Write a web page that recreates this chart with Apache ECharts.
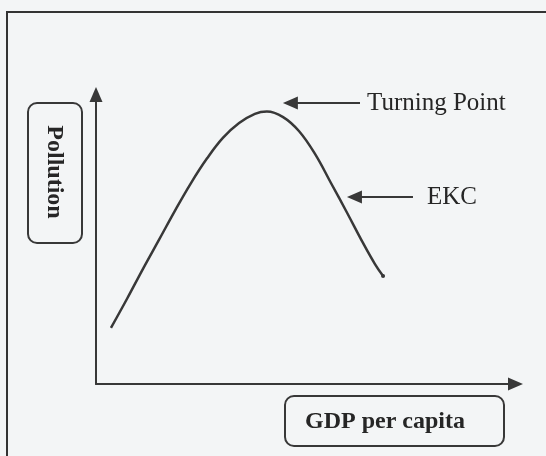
<!DOCTYPE html>
<html>
<head>
<meta charset="utf-8">
<script src="https://cdn.jsdelivr.net/npm/echarts@6/dist/echarts.min.js"></script>
<style>
html,body{margin:0;padding:0;background:#f3f5f6;}
#main{width:546px;height:456px;}
</style>
</head>
<body>
<div id="main"></div>
<script>
// EKC curve: GDP per capita (x) against pollution (y), arbitrary units
var gdpValues       = [3.5, 7.3, 11.0, 14.8, 18.5, 22.2, 26.0, 29.7, 33.5, 37.2, 40.0, 43.8, 47.5, 51.3, 55.0, 58.8, 62.5, 65.3, 67.2];
var pollutionValues = [18.9, 28.8, 38.8, 48.7, 58.4, 67.6, 76.0, 82.9, 87.9, 91.0, 91.8, 89.9, 85.2, 77.4, 67.7, 57.6, 47.5, 40.4, 36.4];
var axisNames  = ['GDP per capita', 'Pollution'];
// annotation arrows (tip point, tail point) in data units
var noteNames  = ['Turning Point', 'EKC'];
var noteTips   = [[45.5, 94.6], [60.5, 63.0]];
var noteTails  = [[61.8, 94.6], [74.2, 63.0]];
var noteGaps   = [7, 14];

var ink = '#383838';
var serif = '"Liberation Serif", "DejaVu Serif", serif';

var curve = [];
for (var i = 0; i < gdpValues.length; i++) {
    curve.push([gdpValues[i], pollutionValues[i]]);
}
// pen blot at the end of the curve
curve[curve.length - 1] = {value: curve[curve.length - 1], symbol: 'circle', symbolSize: 4};

var notes = [];
for (var j = 0; j < noteNames.length; j++) {
    notes.push([
        {name: noteNames[j], coord: noteTips[j], label: {distance: noteGaps[j]}},
        {coord: noteTails[j]}
    ]);
}

var myChart = echarts.init(document.getElementById('main'));
var option = {
    backgroundColor: '#f3f5f6',
    animation: false,
    grid: {left: 96, right: 30.5, top: 94.5, bottom: 72},
    xAxis: {
        type: 'value', min: 0, max: 98.2,
        axisLine: {lineStyle: {color: ink, width: 2}, symbol: ['none', 'triangle'], symbolSize: [13, 15]},
        axisTick: {show: false}, axisLabel: {show: false}, splitLine: {show: false}
    },
    yAxis: {
        type: 'value', min: 0, max: 97.5,
        axisLine: {lineStyle: {color: ink, width: 2}, symbol: ['none', 'triangle'], symbolSize: [13, 15]},
        axisTick: {show: false}, axisLabel: {show: false}, splitLine: {show: false}
    },
    series: [{
        type: 'line',
        smooth: 0.4,
        symbol: 'none',
        itemStyle: {color: ink},
        lineStyle: {color: ink, width: 2.5},
        data: curve,
        markLine: {
            silent: true,
            symbol: ['triangle', 'none'],
            symbolSize: [13, 15],
            lineStyle: {color: ink, width: 2, type: 'solid'},
            label: {
                show: true, position: 'end',
                formatter: function (p) { return p.name; },
                color: '#262626', fontSize: 25, fontFamily: serif
            },
            data: notes
        }
    }],
    graphic: [
        // scanned page frame
        {type: 'rect', shape: {x: 7, y: 12, width: 560, height: 470},
         style: {fill: 'none', stroke: '#333', lineWidth: 2}},
        // y axis title box
        {type: 'rect', shape: {x: 28, y: 103, width: 54, height: 140, r: 9},
         style: {fill: 'none', stroke: ink, lineWidth: 2}},
        {type: 'text', x: 54, y: 172, rotation: -Math.PI / 2,
         style: {text: axisNames[1], fill: '#262626', font: 'bold 24px ' + serif,
                 textAlign: 'center', textVerticalAlign: 'middle'}},
        // x axis title box
        {type: 'rect', shape: {x: 285, y: 396, width: 219, height: 50, r: 9},
         style: {fill: 'none', stroke: ink, lineWidth: 2}},
        {type: 'text', x: 385, y: 422,
         style: {text: axisNames[0], fill: '#262626', font: 'bold 24px ' + serif,
                 textAlign: 'center', textVerticalAlign: 'middle'}}
    ]
};
myChart.setOption(option);
</script>
</body>
</html>
